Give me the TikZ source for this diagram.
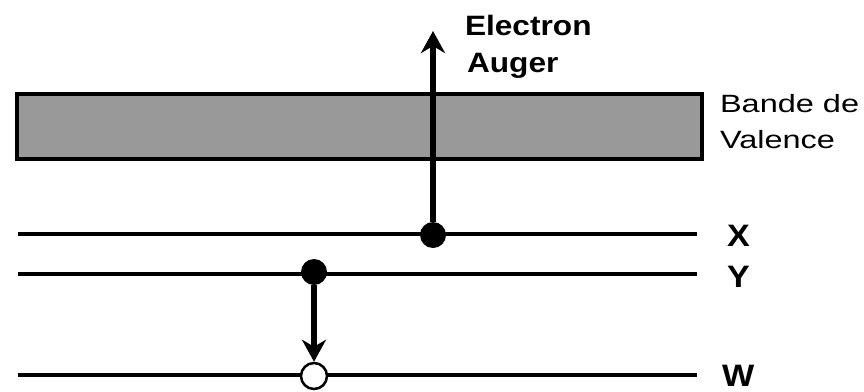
\documentclass[tikz,border=0pt]{standalone}
\usepackage{fontspec}
\setmainfont{Liberation Sans}
\usetikzlibrary{arrows.meta}
\definecolor{bandgray}{RGB}{153,153,153}
\tikzset{
  level/.style={line width=3.2pt, black},
  band/.style={draw=black, line width=4pt, fill=bandgray},
  electron/.style={circle, fill=black, minimum size=26pt, inner sep=0pt},
  hole/.style={circle, draw=black, line width=2.5pt, fill=white, minimum size=26pt, inner sep=0pt},
  transit/.style={line width=5.5pt, -{Stealth[length=22pt, width=24pt, inset=7pt]}},
  lbl/.style={anchor=base west, inner sep=0pt, outer sep=0pt},
}
\newcommand{\boldlbl}[1]{\scalebox{1.13}[1]{\fontsize{28}{30}\selectfont\bfseries #1}}
\newcommand{\reglbl}[1]{\scalebox{1.3}[1]{\fontsize{25}{28}\selectfont #1}}
\newcommand{\lvllbl}[1]{\scalebox{1.1}[1]{\fontsize{31}{34}\selectfont\bfseries #1}}
\begin{document}
\begin{tikzpicture}[x=1pt, y=-1pt]
\useasboundingbox (0,0) rectangle (864,391);
% valence band
\node[band, minimum width=685pt, minimum height=65pt, anchor=north west, inner sep=0pt] (vb) at (15,92) {};
% levels
\coordinate (xl) at (18,234); \coordinate (xr) at (697,234);
\coordinate (yl) at (18,274); \coordinate (yr) at (697,274);
\coordinate (wl) at (18,375); \coordinate (wr) at (697,375);
\draw[level] (xl) -- (xr);
\draw[level] (yl) -- (yr);
\draw[level] (wl) -- (wr);
% electrons and hole
\node[electron] (ex) at (433,235) {};
\node[electron] (ey) at (314,272) {};
\node[hole] (hw) at (314,376) {};
\coordinate (top) at (433,31);
\draw[transit] (ex) -- (top);
\draw[transit] (ey) -- (hw);
% labels
\node[lbl] (t1) at (465,35) {\boldlbl{Electron}};
\node[lbl] (t2) at (467,72) {\boldlbl{Auger}};
\node[lbl] (t3) at (720,112) {\reglbl{Bande de}};
\node[lbl] (t4) at (720,148) {\reglbl{Valence}};
\node[lbl] (lx) at (727,246) {\lvllbl{X}};
\node[lbl] (ly) at (727,287) {\lvllbl{Y}};
\node[lbl] (lw) at (722,386) {\lvllbl{W}};
\end{tikzpicture}
\end{document}
